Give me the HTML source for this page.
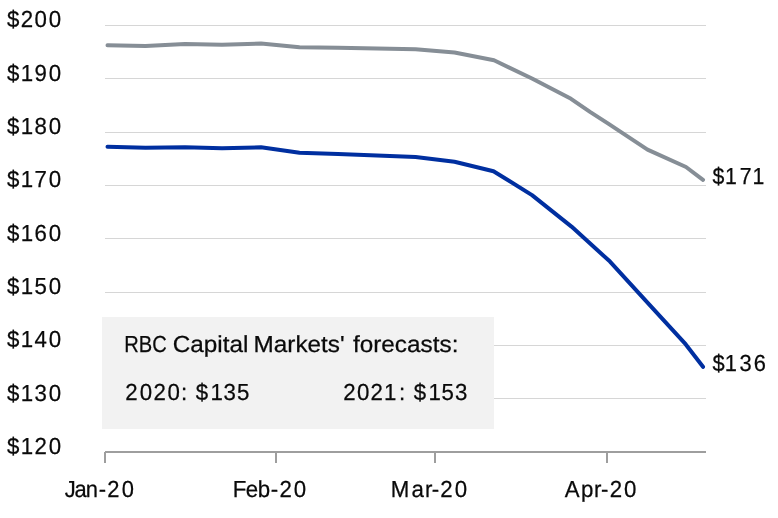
<!DOCTYPE html>
<html lang="en">
<head>
<meta charset="utf-8">
<title>Forecast chart</title>
<style>
html,body{margin:0;padding:0;background:#fff;}
body{width:778px;height:518px;overflow:hidden;}
svg{display:block;}
text{font-family:"Liberation Sans",sans-serif;font-size:23.2px;fill:#0a0a0a;text-rendering:geometricPrecision;stroke:#0a0a0a;stroke-width:0.25px;}
</style>
</head>
<body>
<svg width="778" height="518" viewBox="0 0 778 518">
<rect x="0" y="0" width="778" height="518" fill="#ffffff"/>
<g fill="#d6d6d6">
<rect x="105" y="25" width="601" height="1"/>
<rect x="105" y="78" width="601" height="1"/>
<rect x="105" y="132" width="601" height="1"/>
<rect x="105" y="185" width="601" height="1"/>
<rect x="105" y="238" width="601" height="1"/>
<rect x="105" y="292" width="601" height="1"/>
<rect x="105" y="345" width="601" height="1"/>
<rect x="105" y="398" width="601" height="1"/>
</g>
<rect x="102" y="317" width="392" height="112" fill="#f2f2f2"/>
<g fill="#9e9e9e">
<rect x="105" y="451" width="601" height="2"/>
<rect x="104" y="452" width="2" height="11"/>
<rect x="275" y="452" width="2" height="11"/>
<rect x="434" y="452" width="2" height="11"/>
<rect x="606" y="452" width="2" height="11"/>
</g>
<path d="M107.5 45.3 L145.5 46.0 L185.0 43.9 L222.0 44.8 L261.0 43.6 L299.5 47.2 L338.0 47.8 L377.0 48.4 L415.6 49.2 L454.5 52.5 L494.0 60.3 L532.0 78.5 L571.0 98.8 L590.0 111.9 L609.0 124.1 L647.5 149.6 L686.0 167.0 L703.0 179.8" fill="none" stroke="#868e96" stroke-width="4" stroke-linecap="round" stroke-linejoin="round"/>
<path d="M107.5 146.8 L145.5 147.8 L185.0 147.3 L222.0 148.2 L261.0 147.3 L299.5 152.8 L338.0 154.0 L377.0 155.4 L415.6 156.9 L454.5 161.7 L493.5 171.2 L532.0 195.1 L571.5 226.6 L610.0 261.6 L647.5 302.7 L685.6 344.2 L703.0 366.8" fill="none" stroke="#002fa0" stroke-width="4" stroke-linecap="round" stroke-linejoin="round"/>
<text transform="scale(0.9600,1)" y="27.40" x="7.25 21.51 35.85 50.82">$200</text>
<text transform="scale(0.9600,1)" y="80.71" x="7.25 21.54 35.85 50.82">$190</text>
<text transform="scale(0.9600,1)" y="134.02" x="7.25 21.54 35.85 50.82">$180</text>
<text transform="scale(0.9600,1)" y="187.33" x="7.25 21.54 35.85 50.82">$170</text>
<text transform="scale(0.9600,1)" y="240.64" x="7.25 21.54 35.86 50.82">$160</text>
<text transform="scale(0.9600,1)" y="293.95" x="7.25 21.54 35.85 50.82">$150</text>
<text transform="scale(0.9600,1)" y="347.26" x="7.25 21.54 35.84 50.82">$140</text>
<text transform="scale(0.9600,1)" y="400.57" x="7.25 21.54 35.84 50.82">$130</text>
<text transform="scale(0.9600,1)" y="453.88" x="7.25 21.54 35.85 50.82">$120</text>
<text transform="scale(0.9444,1)" y="496.70" x="68.57 78.84 90.83 104.62 113.68 129.04">Jan-20</text>
<text transform="scale(0.9600,1)" y="496.70" x="242.47 256.06 268.55 282.13 291.25 306.02">Feb-20</text>
<text transform="scale(0.9600,1)" y="496.70" x="407.06 428.70 442.59 449.84 458.71 473.73">Mar-20</text>
<text transform="scale(0.9600,1)" y="496.70" x="588.39 605.13 618.64 626.09 635.07 650.09">Apr-20</text>
<text transform="scale(0.9182,1)" y="184.20" x="776.02 789.59 805.63 819.60">$171</text>
<text transform="scale(0.9432,1)" y="370.60" x="755.44 768.48 783.97 799.15">$136</text>
<text y="351.70"><tspan x="124.25" textLength="42.52" lengthAdjust="spacingAndGlyphs">RBC</tspan> <tspan x="172.66" textLength="75.76" lengthAdjust="spacingAndGlyphs">Capital</tspan> <tspan x="253.51" textLength="91.12" lengthAdjust="spacingAndGlyphs">Markets'</tspan> <tspan x="352.96" textLength="105.47" lengthAdjust="spacingAndGlyphs">forecasts:</tspan></text>
<text transform="scale(0.9600,1)" y="399.70" x="130.50 145.56 159.99 174.43 188.55 194.99 204.03 219.25 232.87 246.82">2020: $135</text>
<text transform="scale(0.9600,1)" y="399.70" x="357.58 371.97 385.92 399.91 415.63 422.08 431.11 446.34 459.97 473.95">2021: $153</text>
</svg>
</body>
</html>
